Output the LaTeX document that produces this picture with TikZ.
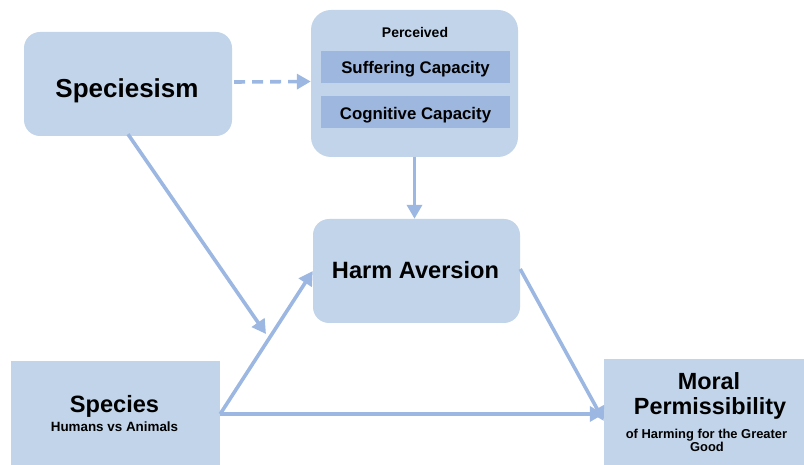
\documentclass[tikz,border=0pt]{standalone}
\usepackage{fontspec}
\setmainfont{Liberation Sans}
\usetikzlibrary{arrows.meta}
\definecolor{boxfill}{HTML}{C1D4E9}
\definecolor{barfill}{HTML}{9DB7DF}
\definecolor{arrowc}{HTML}{9CB7E1}
\tikzset{
  rbox/.style={fill=boxfill, draw=none, rounded corners=16pt, inner sep=0pt},
  sbox/.style={fill=boxfill, draw=none, inner sep=0pt},
  bar/.style={fill=barfill, draw=none, inner sep=0pt, minimum width=189pt, minimum height=31.5pt},
  arr/.style={draw=arrowc, line width=3.6pt, -{Triangle[length=14pt,width=15pt]}},
  lbl/.style={inner sep=0pt, anchor=base},
}
\newcommand{\fs}[1]{\fontsize{#1}{#1}\selectfont\bfseries}
\begin{document}
\begin{tikzpicture}[x=1pt,y=-1pt]
\useasboundingbox (0,0) rectangle (804,465);
% boxes
\node[rbox, minimum width=208pt, minimum height=104pt] (spec) at (128,84) {};
\node[lbl, font=\fs{26}] (spect) at (127,97.3) {Speciesism};
\node[rbox, rounded corners=20pt, minimum width=207pt, minimum height=147pt] (perc) at (414.5,83.5) {};
\node[lbl, font=\fs{14}] (perct) at (415,37.3) {Perceived};
\node[bar] (suff) at (415.5,66.8) {};
\node[lbl, font=\fs{16.8}] (sufft) at (415.5,73.3) {Suffering Capacity};
\node[bar] (cogn) at (415.5,111.8) {};
\node[lbl, font=\fs{16.8}] (cognt) at (415.5,119.3) {Cognitive Capacity};
\node[rbox, minimum width=207pt, minimum height=104pt] (harm) at (416.5,271) {};
\node[lbl, font=\fs{23.6}] (harmt) at (415.5,279) {Harm Aversion};
\node[sbox, minimum width=209pt, minimum height=106pt] (species) at (115.5,414) {};
\node[lbl, font=\fs{23.6}] (speciest) at (114.5,412.7) {Species};
\node[lbl, font=\fs{13.4}] (speciess) at (114.5,431.3) {Humans vs Animals};
\node[sbox, minimum width=200pt, minimum height=108pt] (moral) at (704,413) {};
\node[lbl, font=\fs{23.4}] (moralt1) at (709,389) {Moral};
\node[lbl, font=\fs{23.4}] (moralt2) at (710,414) {Permissibility};
\node[lbl, font=\fs{12.9}] (morals1) at (706.5,438) {of Harming for the Greater};
\node[lbl, font=\fs{12.9}] (morals2) at (707,451) {Good};
% connectors
\coordinate (mid) at (266,334);
\draw[arr, dash pattern=on 11pt off 7pt] ([xshift=2pt,yshift=2pt]spec.east) -- ([yshift=2pt]perc.west);
\draw[arr] (perc.south) -- (perc.south |- harm.north);
\draw[arr] ([yshift=2pt]spec.south) -- (mid);
\draw[arr] (species.east) -- (harm.west);
\draw[arr] (species.east) -- ([yshift=-1pt]moral.west);
\draw[arr] ([yshift=2pt]harm.east) -- ([yshift=-8pt]moral.west);
\end{tikzpicture}
\end{document}
